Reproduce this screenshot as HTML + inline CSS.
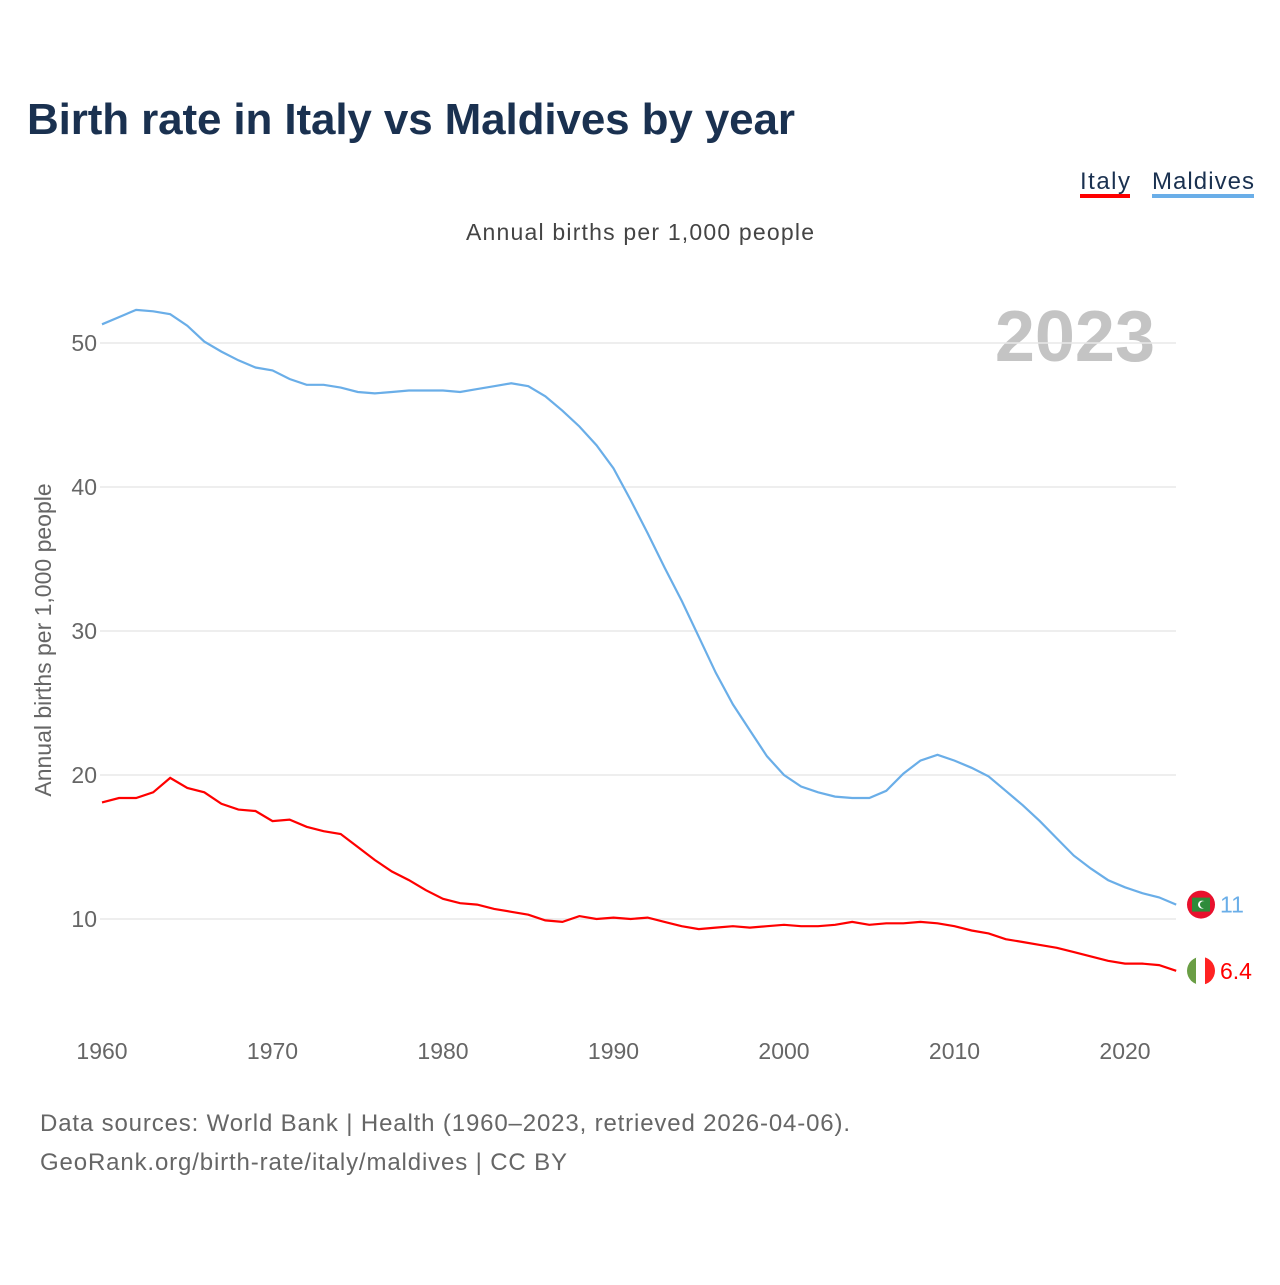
<!DOCTYPE html>
<html><head><meta charset="utf-8">
<style>
body{margin:0;background:#fff;font-family:"Liberation Sans",sans-serif;}
svg text{font-family:"Liberation Sans",sans-serif;}
</style></head>
<body>
<svg width="1280" height="1280" viewBox="0 0 1280 1280">
<defs>
<clipPath id="cItaly"><circle cx="1201" cy="971" r="14"/></clipPath>
</defs>
<text x="27" y="134" font-size="44" font-weight="bold" fill="#1a3150" textLength="768">Birth rate in Italy vs Maldives by year</text>
<g><text x="1080" y="189" font-size="24" fill="#1a3150" textLength="50">Italy</text><rect x="1080" y="194" width="50" height="4" fill="#ff0000"/></g>
<g><text x="1152" y="189" font-size="24" fill="#1a3150" textLength="102">Maldives</text><rect x="1152" y="194" width="102" height="4" fill="#6aaee8"/></g>
<text x="466" y="240" font-size="23" fill="#444" textLength="348">Annual births per 1,000 people</text>
<text x="1155" y="361" font-size="72" font-weight="bold" fill="#c4c4c4" text-anchor="end">2023</text>
<text transform="translate(51,640) rotate(-90)" font-size="23" fill="#666" text-anchor="middle">Annual births per 1,000 people</text>
<g id="grid"></g><g id="xt"></g><g id="lines"></g>
<text x="40" y="1131" font-size="24" fill="#666" textLength="810">Data sources: World Bank | Health (1960–2023, retrieved 2026-04-06).</text>
<text x="40" y="1170" font-size="24" fill="#666" textLength="527">GeoRank.org/birth-rate/italy/maldives | CC BY</text>
</svg>
<script>
const years=[];for(let y=1960;y<=2023;y++)years.push(y);
const maldives=[51.3,51.8,52.3,52.2,52.0,51.2,50.1,49.4,48.8,48.3,48.1,47.5,47.1,47.1,46.9,46.6,46.5,46.6,46.7,46.7,46.7,46.6,46.8,47.0,47.2,47.0,46.3,45.3,44.2,42.9,41.3,39.1,36.8,34.4,32.1,29.6,27.1,24.9,23.1,21.3,20.0,19.2,18.8,18.5,18.4,18.4,18.9,20.1,21.0,21.4,21.0,20.5,19.9,18.9,17.9,16.8,15.6,14.4,13.5,12.7,12.2,11.8,11.5,11.0];
const italy=[18.1,18.4,18.4,18.8,19.8,19.1,18.8,18.0,17.6,17.5,16.8,16.9,16.4,16.1,15.9,15.0,14.1,13.3,12.7,12.0,11.4,11.1,11.0,10.7,10.5,10.3,9.9,9.8,10.2,10.0,10.1,10.0,10.1,9.8,9.5,9.3,9.4,9.5,9.4,9.5,9.6,9.5,9.5,9.6,9.8,9.6,9.7,9.7,9.8,9.7,9.5,9.2,9.0,8.6,8.4,8.2,8.0,7.7,7.4,7.1,6.9,6.9,6.8,6.4];
const yTicks=[10,20,30,40,50];
const xTicks=[1960,1970,1980,1990,2000,2010,2020];
const NS="http://www.w3.org/2000/svg";
const X=y=>102+(y-1960)*17.05;
const Y=v=>919-(v-10)*14.4;
function mk(t,a,p){const e=document.createElementNS(NS,t);for(const k in a)e.setAttribute(k,a[k]);p.appendChild(e);return e;}
const grid=document.getElementById('grid');
yTicks.forEach(v=>{
 const l=mk('line',{x1:100,x2:1176,y1:Y(v),y2:Y(v),stroke:'#e8e8e8','stroke-width':1.5},grid);
 
 
 const t=mk('text',{x:97,y:Y(v)+8,'font-size':23,fill:'#666','text-anchor':'end'},grid);t.textContent=v;
 
 
});
const xt=document.getElementById('xt');
xTicks.forEach(v=>{
 const t=mk('text',{x:X(v),y:1059,'font-size':23,fill:'#666','text-anchor':'middle'},xt);t.textContent=v;
 
 
});
const lines=document.getElementById('lines');
function series(arr,col,name,label){
 const d=arr.map((v,i)=>(i?'L':'M')+X(years[i]).toFixed(1)+','+Y(v).toFixed(1)).join('');
 const p=mk('path',{d:d,fill:'none',stroke:col,'stroke-width':2.2},lines);
 
 
 const last=arr[arr.length-1];
 const cy=Y(last);
 if(name==='italy'){
  const g=mk('g',{'clip-path':'url(#cItaly)',transform:`translate(0,${(cy-971).toFixed(1)})`},lines);
  
  
  mk('rect',{x:1187,y:957,width:10,height:28,fill:'#6a9e45'},g);
  mk('rect',{x:1196,y:957,width:10,height:28,fill:'#fff'},g);
  mk('rect',{x:1205,y:957,width:10,height:28,fill:'#f22'},g);
 } else {
  const c=mk('circle',{cx:1201,cy:cy,r:14,fill:'#e8112d'},lines);
  
  
  mk('rect',{x:1192,y:cy-7,width:18,height:14,fill:'#2e8b3a'},lines);
  mk('circle',{cx:1202,cy:cy,r:4,fill:'#fff'},lines);
  mk('circle',{cx:1203.5,cy:cy,r:3.5,fill:'#2e8b3a'},lines);
 }
 const t=mk('text',{x:1220,y:cy+8,'font-size':23,fill:col},lines);t.textContent=label;
 
 
}
series(maldives,'#6aaee8','maldives','11');
series(italy,'#ff0000','italy','6.4');
</script>
</body></html>
